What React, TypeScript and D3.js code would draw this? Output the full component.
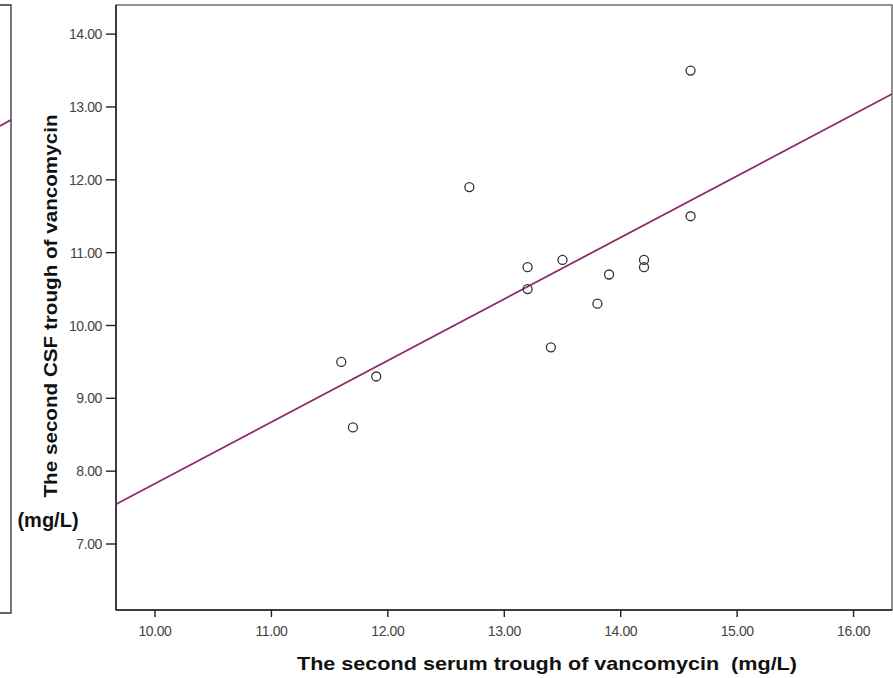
import React, { useEffect, useRef } from "react";
import * as d3 from "d3";

// Data
const serumTrough = [11.6, 11.7, 11.9, 12.7, 13.2, 13.2, 13.4, 13.5, 13.8, 13.9, 14.2, 14.2, 14.6, 14.6];
const csfTrough = [9.5, 8.6, 9.3, 11.9, 10.8, 10.5, 9.7, 10.9, 10.3, 10.7, 10.9, 10.8, 13.5, 11.5];
const xTicks = [10, 11, 12, 13, 14, 15, 16];
const yTicks = [7, 8, 9, 10, 11, 12, 13, 14];
const xTitle = "The second serum trough of vancomycin\u00a0\u00a0(mg/L)";
const yTitle = "The second CSF trough of vancomycin";
const yUnit = "(mg/L)";
// Tail of the neighbouring panel's fit line (visible at left edge)
const leftPanelLineX = [0, 1];
const leftPanelLineY = [0.801, 0.811];

const W = 893;
const H = 678;

export default function App() {
  const ref = useRef<SVGSVGElement | null>(null);

  useEffect(() => {
    const svg = d3.select(ref.current);
    svg.selectAll("*").remove();

    const left = 116, right = 892, top = 5, bottom = 610;
    const x = d3.scaleLinear().domain([9.665, 16.33]).range([left, right]);
    const y = d3.scaleLinear().domain([6.094, 14.4]).range([bottom, top]);
    const font = "Liberation Sans, Arial, sans-serif";

    // Left neighbouring panel fragment
    const lx = d3.scaleLinear().domain([0, 1]).range([0, 11]);
    const ly = d3.scaleLinear().domain([0, 1]).range([613, 5]);
    svg.append("path")
      .attr("d", `M0,${ly(1)}H${lx(1)}V${ly(0)}H0`)
      .attr("fill", "none").attr("stroke", "#333").attr("stroke-width", 1.3);
    svg.append("path")
      .datum(leftPanelLineX.map((v, i) => [v, leftPanelLineY[i]]))
      .attr("d", d3.line<number[]>().x(d => lx(d[0])).y(d => ly(d[1])))
      .attr("fill", "none").attr("stroke", "#8e2b6d").attr("stroke-width", 1.8);

    // Frame
    svg.append("rect")
      .attr("x", left).attr("y", top).attr("width", right - left).attr("height", bottom - top)
      .attr("fill", "none").attr("stroke", "#555").attr("stroke-width", 1.3);
    svg.append("line").attr("x1", left).attr("x2", left).attr("y1", top).attr("y2", bottom)
      .attr("stroke", "#222").attr("stroke-width", 1.5);
    svg.append("line").attr("x1", left).attr("x2", right).attr("y1", bottom).attr("y2", bottom)
      .attr("stroke", "#222").attr("stroke-width", 1.5);

    // Y ticks
    const yg = svg.append("g");
    yTicks.forEach(t => {
      yg.append("line").attr("x1", left - 10).attr("x2", left).attr("y1", y(t)).attr("y2", y(t))
        .attr("stroke", "#222").attr("stroke-width", 1.4);
      yg.append("text").attr("x", left - 14).attr("y", y(t)).attr("dy", "0.36em")
        .attr("text-anchor", "end").attr("font-family", font)
        .attr("font-size", 14).attr("fill", "#444").attr("letter-spacing", "-0.4")
        .text(d3.format(".2f")(t));
    });
    // X ticks
    const xg = svg.append("g");
    xTicks.forEach(t => {
      xg.append("line").attr("x1", x(t)).attr("x2", x(t)).attr("y1", bottom).attr("y2", bottom + 7)
        .attr("stroke", "#222").attr("stroke-width", 1.4);
      xg.append("text").attr("x", x(t)).attr("y", bottom + 26)
        .attr("text-anchor", "middle").attr("font-family", font)
        .attr("font-size", 14).attr("fill", "#444").attr("letter-spacing", "-0.4")
        .text(d3.format(".2f")(t));
    });

    // Regression line (least squares fit)
    const mx = d3.mean(serumTrough)!;
    const my = d3.mean(csfTrough)!;
    const sxy = d3.sum(serumTrough.map((v, i) => (v - mx) * (csfTrough[i] - my)));
    const sxx = d3.sum(serumTrough.map(v => (v - mx) ** 2));
    const slope = sxy / sxx;
    const icpt = my - slope * mx;
    const [x0, x1] = x.domain();
    svg.append("path")
      .datum([[x0, icpt + slope * x0], [x1, icpt + slope * x1]])
      .attr("d", d3.line<number[]>().x(d => x(d[0])).y(d => y(d[1])))
      .attr("fill", "none").attr("stroke", "#8e2b6d").attr("stroke-width", 1.8);

    // Points
    svg.append("g").selectAll("circle")
      .data(serumTrough.map((v, i) => [v, csfTrough[i]]))
      .join("circle")
      .attr("cx", d => x(d[0])).attr("cy", d => y(d[1])).attr("r", 4.5)
      .attr("fill", "none").attr("stroke", "#333").attr("stroke-width", 1.3);

    // Titles
    svg.append("text").attr("x", 547).attr("y", 670).attr("text-anchor", "middle")
      .attr("font-family", font).attr("font-weight", "bold")
      .attr("font-size", 18.5).attr("fill", "#111")
      .attr("textLength", 500).attr("lengthAdjust", "spacingAndGlyphs")
      .text(xTitle);
    svg.append("text").attr("transform", `translate(57,306) rotate(-90)`).attr("text-anchor", "middle")
      .attr("font-family", font).attr("font-weight", "bold")
      .attr("font-size", 18.5).attr("fill", "#111")
      .attr("textLength", 383).attr("lengthAdjust", "spacingAndGlyphs")
      .text(yTitle);
    svg.append("text").attr("x", 48).attr("y", 527).attr("text-anchor", "middle")
      .attr("font-family", font).attr("font-weight", "bold")
      .attr("font-size", 20).attr("fill", "#111")
      .text(yUnit);
  }, []);

  return (
    <svg ref={ref} width={W} height={H}
      style={{ position: "absolute", left: 0, top: 0, background: "#fff" }} />
  );
}
